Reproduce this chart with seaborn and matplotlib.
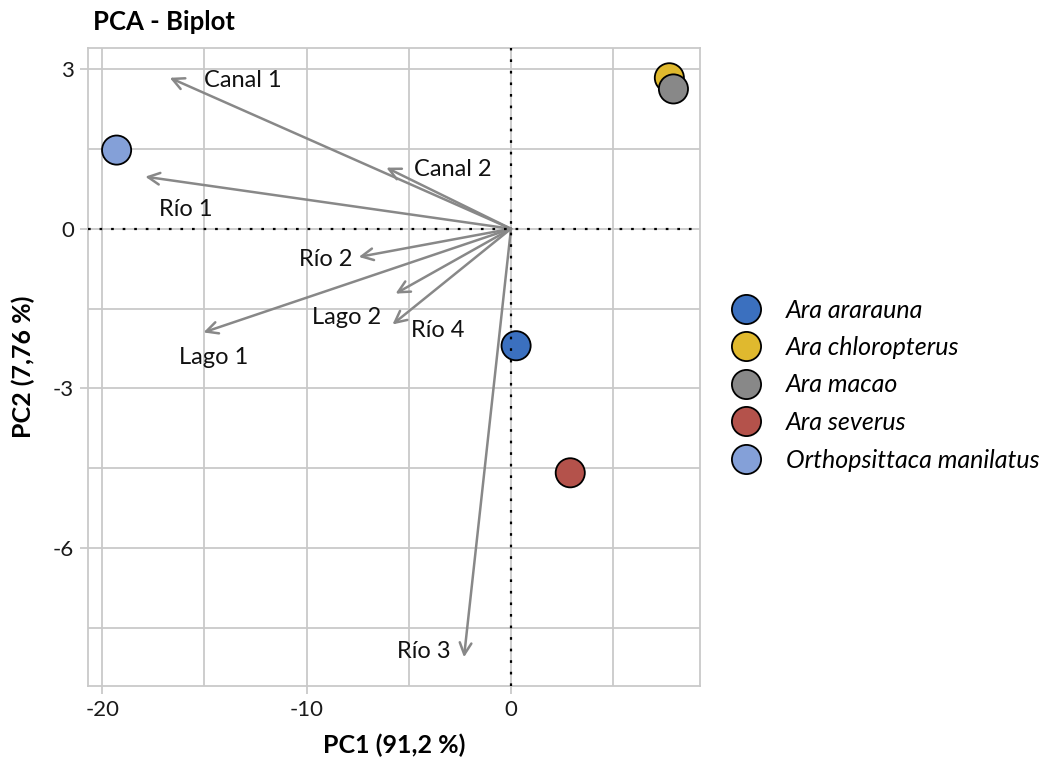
import matplotlib
matplotlib.use("Agg")
import matplotlib.pyplot as plt
from matplotlib.ticker import MultipleLocator, FuncFormatter
from matplotlib.lines import Line2D
import seaborn as sns
import pandas as pd

# Species scores on the first two principal components
species = ["Orthopsittaca manilatus", "Ara chloropterus", "Ara macao",
           "Ara ararauna", "Ara severus"]
pc1_scores = [-19.3, 7.75, 7.95, 0.25, 2.9]
pc2_scores = [1.48, 2.84, 2.63, -2.2, -4.59]

# Variable loadings (arrow tips) and label positions
variables = ["Canal 1", "Canal 2", "Río 1", "Río 2", "Lago 2", "Río 4", "Lago 1", "Río 3"]
load_pc1 = [-16.7, -6.1, -17.9, -7.45, -5.65, -5.8, -15.05, -2.3]
load_pc2 = [2.84, 1.15, 0.98, -0.53, -1.22, -1.8, -1.95, -8.06]
label_pc1 = [-13.1, -2.85, -15.9, -9.05, -8.05, -3.6, -14.55, -4.25]
label_pc2 = [2.78, 1.11, 0.37, -0.57, -1.66, -1.92, -2.43, -7.95]

legend_order = ["Ara ararauna", "Ara chloropterus", "Ara macao",
                "Ara severus", "Orthopsittaca manilatus"]
colors = ["#3B70BF", "#E0B92E", "#888888", "#B4524B", "#84A0D8"]
palette = dict(zip(legend_order, colors))

sns.set_theme(style="white")
plt.rcParams["font.family"] = ["Lato", "DejaVu Sans"]
plt.rcParams["text.color"] = "black"

fig = plt.figure(figsize=(10.41, 7.57), dpi=100)
ax = fig.add_axes([88 / 1041, 1 - 686 / 757, 612 / 1041, 638 / 757])

ax.set_xlim(-20.7, 9.25)
ax.set_ylim(-8.6, 3.4)
ax.xaxis.set_major_locator(MultipleLocator(10))
ax.xaxis.set_minor_locator(MultipleLocator(5))
ax.yaxis.set_major_locator(MultipleLocator(3))
ax.yaxis.set_minor_locator(MultipleLocator(1.5))
hyphen = FuncFormatter(lambda v, p: f"{v:g}".replace("\u2212", "-"))
ax.xaxis.set_major_formatter(hyphen)
ax.yaxis.set_major_formatter(hyphen)
grid_col = "#c9c9c9"
ax.grid(which="both", color=grid_col, linewidth=1.3, zorder=0)
ax.set_axisbelow(True)
for s in ax.spines.values():
    s.set_color(grid_col)
    s.set_linewidth(1.3)
ax.tick_params(which="major", length=6, width=1.3, color=grid_col,
               labelsize=16, labelcolor="#1a1a1a", pad=4,
               bottom=True, left=True)
ax.tick_params(which="minor", length=0)

# Reference lines through the origin
ax.axhline(0, color="black", linestyle=(0, (1.2, 4)), linewidth=1.6, zorder=5)
ax.axvline(0, color="black", linestyle=(0, (1.2, 4)), linewidth=1.6, zorder=5)

# Loading arrows
for vx, vy, lx, ly, name in zip(load_pc1, load_pc2, label_pc1, label_pc2, variables):
    ax.annotate("", xy=(vx, vy), xytext=(0, 0),
                arrowprops=dict(arrowstyle="->,head_length=0.7,head_width=0.35",
                                color="#888888", lw=1.8, shrinkA=0, shrinkB=0),
                zorder=3)
    ax.text(lx, ly, name, ha="center", va="center", fontsize=17,
            color="#111111", zorder=6)

# Species scores
df = pd.DataFrame({"PC1": pc1_scores, "PC2": pc2_scores, "Especie": species})
sns.scatterplot(data=df, x="PC1", y="PC2", hue="Especie", palette=palette,
                s=440, edgecolor="black", linewidth=1.3, ax=ax, legend=False,
                zorder=4)

ax.set_xlabel("PC1 (91,2 %)", fontsize=18, fontweight="bold", labelpad=10,
              color="black")
ax.set_ylabel("PC2 (7,76 %)", fontsize=18, fontweight="bold", color="black")
ax.yaxis.set_label_coords(-0.087, 0.5)
fig.text(93 / 1041, 1 - 22 / 757, "PCA - Biplot", fontsize=18.5, fontweight="bold",
         ha="left", va="center", color="black")

handles = [Line2D([], [], marker="o", linestyle="", markersize=21,
                  markerfacecolor=palette[n], markeredgecolor="black",
                  markeredgewidth=1.3) for n in legend_order]
fig.legend(handles, legend_order, loc="center left",
           bbox_to_anchor=(731 / 1041, 1 - 385 / 757), frameon=False,
           prop={"style": "italic", "size": 18}, handletextpad=1.0,
           labelspacing=0.58, borderaxespad=0, borderpad=0, handlelength=1.2,
           labelcolor="black")

fig.savefig("out.png", dpi=100)
